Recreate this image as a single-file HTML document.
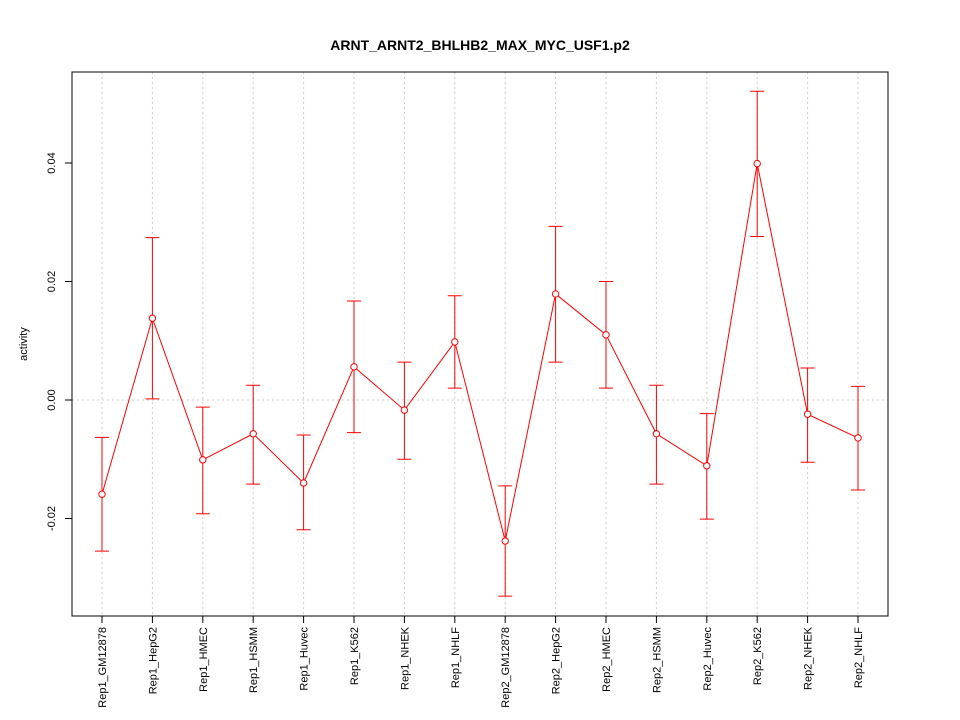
<!DOCTYPE html>
<html><head><meta charset="utf-8"><style>body{margin:0;background:#fff}svg{display:block;font-family:"Liberation Sans",sans-serif}</style></head>
<body>
<svg id="chart" width="960" height="720">
<text x="480" y="50" text-anchor="middle" font-size="14" font-weight="bold">ARNT_ARNT2_BHLHB2_MAX_MYC_USF1.p2</text>
<text transform="translate(27,344) rotate(-90)" text-anchor="middle" font-size="11">activity</text>
<g id="grid"></g>
<rect x="72" y="72" width="816" height="544" fill="none" stroke="#000"/>
<g id="axes"></g>
<g id="series"></g>
</svg>
<script>
const categories=["Rep1_GM12878","Rep1_HepG2","Rep1_HMEC","Rep1_HSMM","Rep1_Huvec","Rep1_K562","Rep1_NHEK","Rep1_NHLF","Rep2_GM12878","Rep2_HepG2","Rep2_HMEC","Rep2_HSMM","Rep2_Huvec","Rep2_K562","Rep2_NHEK","Rep2_NHLF"];
const values=[-0.0159,0.0138,-0.0101,-0.0057,-0.0140,0.0056,-0.0017,0.0098,-0.0238,0.0179,0.0110,-0.0057,-0.0111,0.0399,-0.0024,-0.0064];
const upper=[-0.0063,0.0274,-0.0012,0.0025,-0.0059,0.0167,0.0064,0.0176,-0.0145,0.0293,0.0200,0.0025,-0.0023,0.0521,0.0054,0.0023];
const lower=[-0.0255,0.0002,-0.0192,-0.0142,-0.0219,-0.0055,-0.0100,0.0020,-0.0331,0.0064,0.0020,-0.0142,-0.0201,0.0276,-0.0105,-0.0152];
const yTicks=[-0.02,0.00,0.02,0.04];
const yTickLabels=["-0.02","0.00","0.02","0.04"];
const NS="http://www.w3.org/2000/svg";
const x=i=>102+i*(756/(categories.length-1));
const y=v=>400-v*5925;
function mk(t,a,p){const e=document.createElementNS(NS,t);for(const k in a)e.setAttribute(k,a[k]);p.appendChild(e);return e;}
const grid=document.getElementById('grid'),axes=document.getElementById('axes'),ser=document.getElementById('series');
categories.forEach((c,i)=>{
 const g=mk('line',{x1:x(i),x2:x(i),y1:72,y2:616,stroke:'#ccc','stroke-dasharray':'2,3'},grid);
 
 
 const t=mk('line',{x1:x(i),x2:x(i),y1:616,y2:623,stroke:'#000'},axes);
 
 
 const l=mk('text',{transform:`translate(${x(i)+4},627) rotate(-90)`,'text-anchor':'end','font-size':'11'},axes);
 l.textContent=c;
 
 
});
const hz=mk('line',{x1:72,x2:888,y1:y(0),y2:y(0),stroke:'#ccc','stroke-dasharray':'2,3'},grid);


yTicks.forEach((v,i)=>{
 const t=mk('line',{x1:65,x2:72,y1:y(v),y2:y(v),stroke:'#000'},axes);
 
 
 const l=mk('text',{transform:`translate(55,${y(v)}) rotate(-90)`,'text-anchor':'middle','font-size':'11'},axes);
 l.textContent=yTickLabels[i];
 
 
});
const line=mk('polyline',{points:values.map((v,i)=>x(i)+','+y(v)).join(' '),fill:'none',stroke:'#f00'},ser);


values.forEach((v,i)=>{
 const e=mk('path',{d:`M${x(i)},${y(upper[i])}V${y(lower[i])}M${x(i)-7},${y(upper[i])}H${x(i)+7}M${x(i)-7},${y(lower[i])}H${x(i)+7}`,stroke:'#f00',fill:'none'},ser);
 
 
 const p=mk('circle',{cx:x(i),cy:y(v),r:3.2,fill:'#fff',stroke:'#f00'},ser);
 
 
});
</script>
</body></html>
